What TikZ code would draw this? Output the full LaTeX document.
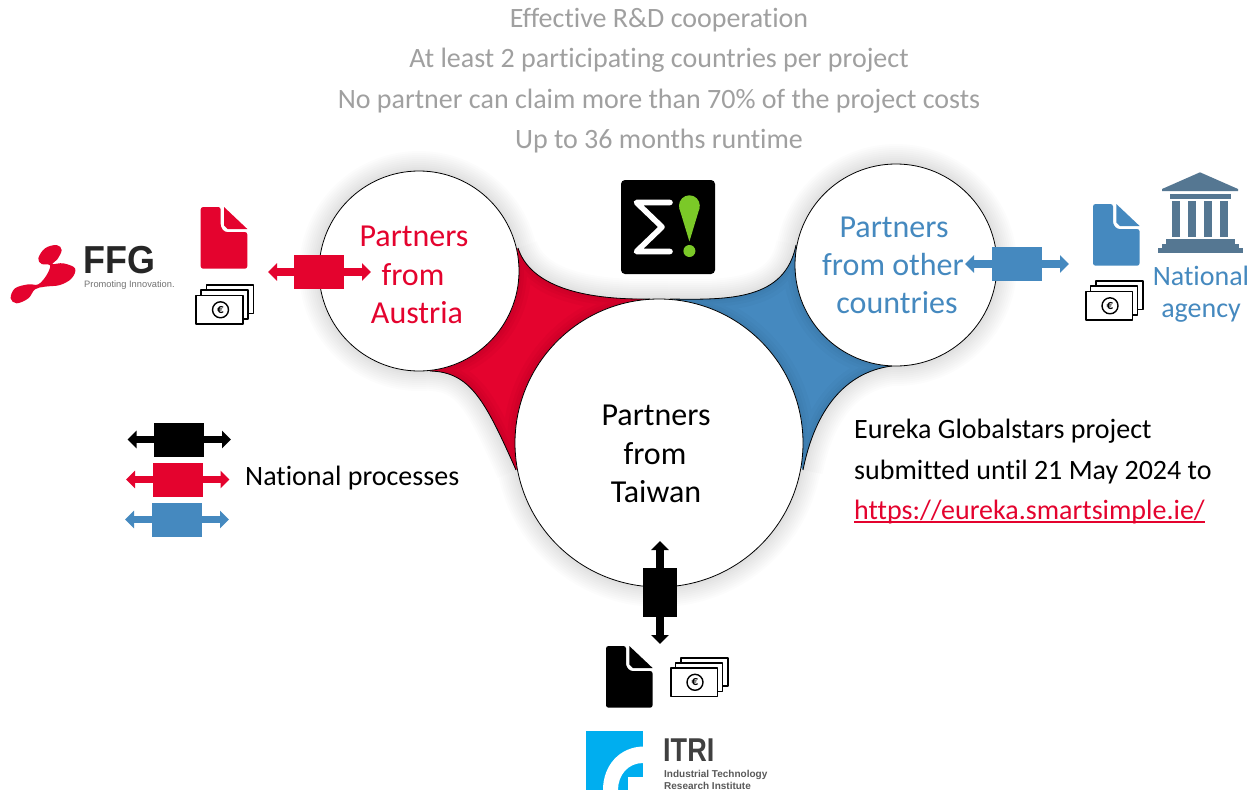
\documentclass[tikz,border=0pt]{standalone}
\usepackage{fontspec}
\setmainfont{Carlito}[Ligatures={NoCommon}]
\newfontfamily\logofont{Liberation Sans}
\usetikzlibrary{arrows.meta}
\definecolor{ffgred}{HTML}{E4032E}
\definecolor{eublue}{HTML}{4589BF}
\definecolor{bank}{HTML}{557792}
\definecolor{toptext}{HTML}{A0A0A0}
\definecolor{sigmagreen}{HTML}{7BC928}
\definecolor{itriblue}{HTML}{00AEEF}
\newcommand{\fs}[1]{\fontsize{#1}{#1}\selectfont}
\newcommand{\hubcircles}{(419,271) circle[radius=100] (659,443) circle[radius=144] (896,265) circle[radius=101]}
\newcommand{\hubcurves}{(518,248) .. controls (530,285) and (580,300) .. (650,299)
 (670,299) .. controls (730,300) and (785,300) .. (796,245)
 (430,371) .. controls (470,372) and (485,400) .. (516,470)
 (803,470) .. controls (815,410) and (845,372) .. (892,366)}
\newcommand{\redarea}{(518,248) .. controls (530,285) and (580,300) .. (650,299) -- (516,470) .. controls (485,400) and (470,372) .. (430,371) -- cycle}
\newcommand{\bluearea}{(670,299) .. controls (730,300) and (785,300) .. (796,245) -- (892,366) .. controls (845,372) and (815,410) .. (803,470) -- cycle}
% document icon
\newcommand{\docicon}[3]{\begin{scope}[shift={(#1,#2)}]
 \fill[#3,rounded corners=2.5pt] (0,0) -- (20,0) -- (20,20) -- (24,25) -- (46.6,25) -- (46.6,61.7) -- (0,61.7) -- cycle;
 \fill[#3] (23.3,0) -- (46.6,22) -- (27,22) -- (23.3,18.5) -- cycle;
 \end{scope}}
% banknote icon
\newcommand{\moneyicon}[2]{\begin{scope}[shift={(#1,#2)},line width=1.7pt,line join=round]
 \draw[fill=white] (11,0.8) rectangle (58,29);
 \draw[fill=white] (5.5,5.8) rectangle (52.5,34.5);
 \draw[fill=white] (0.8,11) rectangle (47.5,39.5);
 \draw[line width=1.4pt] (25,25.3) circle[radius=8];
 \node[inner sep=0,font=\fs{13}\bfseries] at (25,25.3) {€};
 \end{scope}}
\tikzset{
 gtext/.style={anchor=base,inner sep=0,text=toptext,font=\fs{28}},
 label/.style={anchor=base,inner sep=0,font=\fs{32}},
 notetext/.style={anchor=base west,inner sep=0,font=\fs{28}},
 box/.style={inner sep=0,minimum width=50pt,minimum height=34pt,draw=none},
 link/.style={line width=7.5pt,{Triangle[length=9pt,width=17pt]}-{Triangle[length=9pt,width=17pt]}},
}
\begin{document}
\begin{tikzpicture}[x=1pt,y=-1pt]
\useasboundingbox (0,0) rectangle (1251,790);
\fill[white] (0,0) rectangle (1251,790);
% soft shadow round the hub
\foreach \w in {40,36,32,28,24,20,16,12,8,5}{
 \draw[black,opacity=0.013,line width=\w pt] \hubcircles \hubcurves;
}
% coloured webs
\fill[ffgred] \redarea;
\fill[eublue] \bluearea;
\begin{scope}
 \clip \redarea;
 \foreach \w in {24,16,10,5}{\draw[black,opacity=0.025,line width=\w pt] \hubcircles \hubcurves;}
\end{scope}
\begin{scope}
 \clip \bluearea;
 \foreach \w in {24,16,10,5}{\draw[black,opacity=0.02,line width=\w pt] \hubcircles \hubcurves;}
\end{scope}
\draw[black,line width=0.8pt] \hubcurves;
\draw[black,line width=0.8pt,fill=white] \hubcircles;
% top text
\node[gtext] (t1) at (659,27) {Effective R\&D cooperation};
\node[gtext] (t2) at (659,67) {At least 2 participating countries per project};
\node[gtext] (t3) at (659,108) {No partner can claim more than 70\% of the project costs};
\node[gtext] (t4) at (659,148) {Up to 36 months runtime};
% circle labels
\node[label,text=ffgred] (a1) at (414,246) {Partners};
\node[label,text=ffgred] (a2) at (413,285) {from};
\node[label,text=ffgred] (a3) at (417,323) {Austria};
\node[label] (w1) at (656,425) {Partners};
\node[label] (w2) at (655,464) {from};
\node[label] (w3) at (656,502) {Taiwan};
\node[label,text=eublue] (o1) at (894,237) {Partners};
\node[label,text=eublue] (o2) at (893,275) {from other};
\node[label,text=eublue] (o3) at (897,313) {countries};
% Sigma logo
\node[inner sep=0,minimum width=94pt,minimum height=94pt,fill=black,rounded corners=4pt] (sigma) at (668,227) {};
\draw[white,line width=5.6pt,line cap=round,line join=round] (670,202.5) -- (636.5,202.5) -- (662,227) -- (636.5,251.5) -- (670,251.5);
\fill[sigmagreen] (689.4,205.7) circle[radius=10.4];
\fill[sigmagreen] (679.1,207.5) -- (699.7,207.5) -- (689.4,241.5) -- cycle;
\fill[sigmagreen] (689.4,251) circle[radius=6];
% Austria side
\coordinate (ra) at (268,272);
\coordinate (rb) at (371,272);
\draw[link,ffgred] (ra) -- (rb);
\node[box,fill=ffgred] (rbox) at (319,272) {};
\docicon{200.7}{207}{ffgred}
\moneyicon{195.5}{284.5}
\begin{scope}[shift={(0,190)},scale=1/3]
 \fill[ffgred] plot[smooth cycle,tension=0.6] coordinates {(115,205) (135,175) (170,165) (185,180) (172,208) (158,222) (190,220) (225,235) (215,265) (180,285) (135,290) (105,298) (85,325) (50,340) (32,325) (45,295) (85,283) (115,283) (140,255) (150,226) (125,222)};
\end{scope}
\node[anchor=base west,inner sep=0,text=black!85] (ffg) at (83,273) {\logofont\fs{39}\bfseries\scalebox{0.92}[1]{FFG}};
\node[anchor=base west,inner sep=0,text=black!55] (ffgsub) at (84,287) {\logofont\fs{9.3}Promoting Innovation.};
% other countries side
\coordinate (ba) at (965,264);
\coordinate (bb) at (1069,264);
\draw[link,eublue] (ba) -- (bb);
\node[box,fill=eublue] (bbox) at (1017,264) {};
\docicon{1093}{204}{eublue}
\moneyicon{1085}{280.5}
\fill[bank] (1200,172.3) -- (1238,189) -- (1238,191) -- (1162,191) -- (1162,189) -- cycle;
\fill[bank] (1170,194) rectangle (1230.7,199);
\foreach \cx in {1172,1188,1204,1220}{\fill[bank] (\cx,200.5) rectangle ++(8,36.5);}
\fill[bank] (1166,239) rectangle (1235,244);
\fill[bank] (1162,244) rectangle (1239,248);
\fill[bank] (1158,248) rectangle (1242.7,253);
\node[anchor=base,inner sep=0,text=eublue,font=\fs{28}] (n1) at (1201,285.5) {National};
\node[anchor=base,inner sep=0,text=eublue,font=\fs{28}] (n2) at (1201,317) {agency};
% Taiwan side
\coordinate (ka) at (660,541);
\coordinate (kb) at (660,644);
\draw[link,black] (ka) -- (kb);
\node[box,fill=black,minimum width=34pt,minimum height=49pt] (kbox) at (660,592.5) {};
\docicon{606}{646}{black}
\moneyicon{670}{657}
\node[inner sep=0,minimum width=57pt,minimum height=58.5pt,fill=itriblue] (itri) at (614.5,760.7) {};
\begin{scope}
 \clip (586,731.5) rectangle (643,790);
 \fill[white] (603,790) .. controls (603,765) and (620,747) .. (643,746.5) -- (643,763) .. controls (628,763) and (618,775) .. (618,790) -- cycle;
 \fill[white] (628,776.5) rectangle (643,790);
\end{scope}
\node[anchor=base west,inner sep=0,text=black!75] (itrit) at (663,761.5) {\logofont\fs{33}\bfseries\scalebox{0.82}[1]{ITRI}};
\node[anchor=base west,inner sep=0,text=black!65] (it2) at (664,777.5) {\logofont\fs{10}\bfseries Industrial Technology};
\node[anchor=base west,inner sep=0,text=black!65] (it3) at (664,789.5) {\logofont\fs{10}\bfseries Research Institute};
% legend
\coordinate (l1a) at (127.5,439.5);
\coordinate (l1b) at (231,439.5);
\coordinate (l2a) at (126,479.5);
\coordinate (l2b) at (229.5,479.5);
\coordinate (l3a) at (125,519.5);
\coordinate (l3b) at (229,519.5);
\draw[link,black] (l1a) -- (l1b);
\draw[link,ffgred] (l2a) -- (l2b);
\draw[link,eublue] (l3a) -- (l3b);
\node[box,fill=black] (l1) at (179,439.5) {};
\node[box,fill=ffgred] (l2) at (177.5,479.5) {};
\node[box,fill=eublue] (l3) at (177,519.5) {};
\node[notetext] (np) at (245,485) {National processes};
% note
\node[notetext] (e1) at (854,438) {Eureka Globalstars project};
\node[notetext] (e2) at (854,479) {submitted until 21 May 2024 to};
\node[notetext,text=ffgred] (e3) at (854,519) {https://eureka.smartsimple.ie/};
\draw[ffgred,line width=1.3pt] ([yshift=-3pt]e3.base west) -- ([yshift=-3pt]e3.base east);
\end{tikzpicture}
\end{document}
